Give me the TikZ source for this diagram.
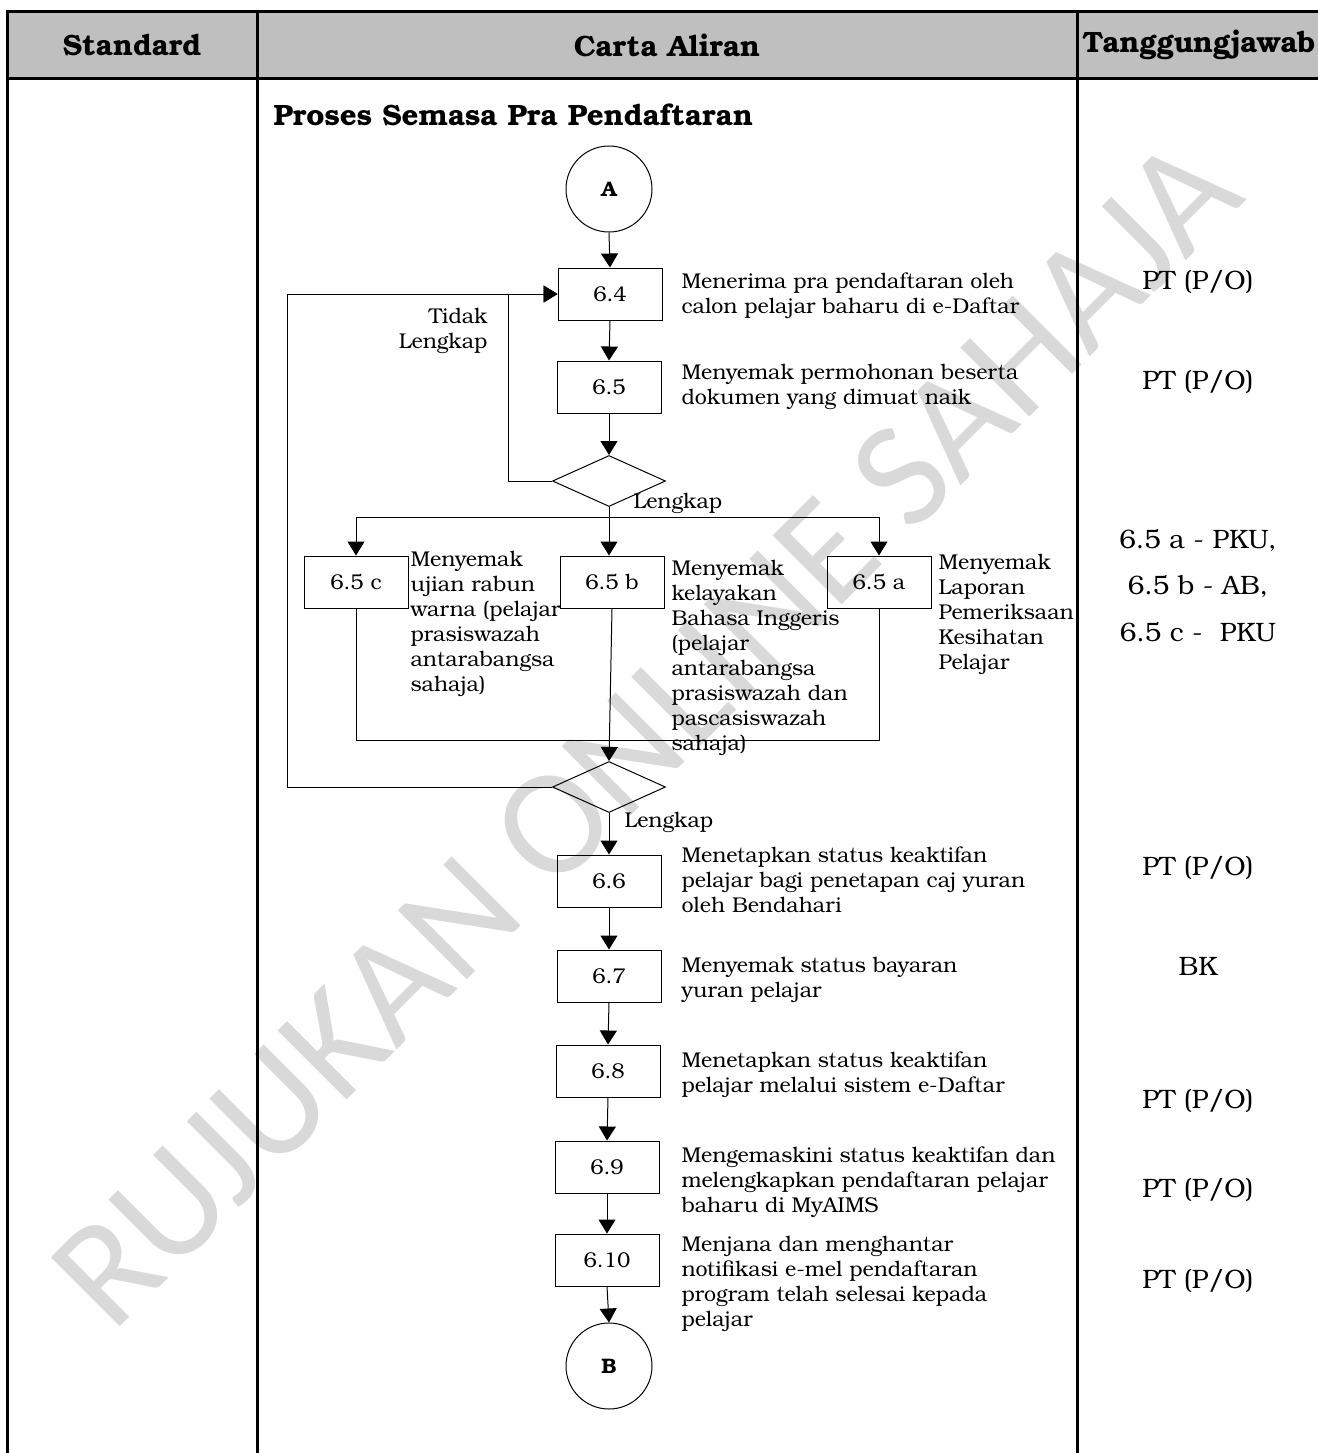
\documentclass[tikz,border=0pt]{standalone}
\usepackage{fontspec}
\setmainfont{TeX Gyre Bonum}
\newfontfamily\wmfont{Carlito}
\usetikzlibrary{arrows.meta,shapes.geometric}
\newcommand\bodyf{\fontsize{10.7}{12.5}\selectfont}
\newcommand\respf{\fontsize{13.3}{15}\selectfont}
\newcommand\hdrf{\bfseries\fontsize{14.7}{17}\selectfont}
\begin{document}
\begin{tikzpicture}[x=0.5pt,y=-0.5pt,
  arr/.style={-{Triangle[width=8.5pt,length=7pt]}},
  box/.style={draw, line width=0.5pt, minimum width=52pt, minimum height=26pt, inner sep=0pt, font=\bodyf},
  circ/.style={draw, line width=0.5pt, circle, minimum size=43pt, inner sep=0pt, font=\bfseries\fontsize{10.5}{12}\selectfont},
  dia/.style={draw, line width=0.5pt, diamond, minimum width=56.5pt, minimum height=25.5pt, inner sep=0pt},
  desc/.style={anchor=north west, inner sep=0pt, align=left, font=\bodyf},
  lbl/.style={inner sep=0pt, font=\bodyf},
  resp/.style={inner sep=0pt, font=\respf},
  hdr/.style={inner sep=0pt, font=\hdrf},
  grid/.style={line width=1.5pt},
  every path/.style={line width=0.5pt}
]
\useasboundingbox (0,0) rectangle (1318,1453);
% watermark
\node[rotate=45, anchor=base west, text=black!15, inner sep=0pt, font=\wmfont\fontsize{76}{76}\selectfont] (wm) at (112,1335) {RUJUKAN ONLINE SAHAJA};
% table
\fill[black!25] (7,11) rectangle (1318,78);
\draw[grid] (1318,11) -- (7,11) -- (7,1453);
\draw[grid] (7,78) -- (1318,78);
\draw[grid] (257,11) -- (257,1453);
\draw[grid] (1077,11) -- (1077,1453);
\node[hdr] (h1) at (132,45) {Standard};
\node[hdr] (h2) at (667,45) {Carta Aliran};
\node[hdr, anchor=west] (h3) at (1082,45) {Tanggungjawab};
\node[hdr, anchor=west] (title) at (273,115) {Proses Semasa Pra Pendaftaran};
% flow nodes
\node[circ] (A) at (609,189) {A};
\node[box] (b64) at (610,294) {6.4};
\node[box] (b65) at (609,387) {6.5};
\node[dia] (d1) at (609,481) {};
\node[box] (b65c) at (356,582) {6.5 c};
\node[box] (b65b) at (612,582) {6.5 b};
\node[box] (b65a) at (879,582) {6.5 a};
\node[dia] (d2) at (609,787) {};
\node[box] (b66) at (609,881) {6.6};
\node[box] (b67) at (609,976) {6.7};
\node[box] (b68) at (608,1071) {6.8};
\node[box] (b69) at (607,1167) {6.9};
\node[box] (b610) at (607,1260) {6.10};
\node[circ] (B) at (609,1366) {B};
\coordinate (loopR) at (508,294);
\coordinate (loopL) at (287,294);
\coordinate (split) at (609,517);
\coordinate (merge) at (609,740);
% connectors
\draw[arr] (A.south) -- (b64.north);
\draw[arr] (b64.south) -- (b65.north);
\draw[arr] (b65.south) -- (d1.north);
\draw[arr] (d1.west) -| (loopR) -- (b64.west);
\draw[arr] (d2.west) -| (loopL) -- (b64.west);
\draw (d1.south) -- (split);
\draw[arr] (split) -| (b65c.north);
\draw[arr] (split) -| (b65a.north);
\draw[arr] (split) -- (split |- b65b.north);
\draw (b65c.south) |- (merge);
\draw (b65a.south) |- (merge);
\draw[arr] (b65b.south) -- (d2.north);
\draw[arr] (d2.south) -- (b66.north);
\draw[arr] (b66.south) -- (b67.north);
\draw[arr] (b67.south) -- (b68.north);
\draw[arr] (b68.south) -- (b69.north);
\draw[arr] (b69.south) -- (b610.north);
\draw[arr] (b610.south) -- (B.north);
% labels
\node[lbl, anchor=north east, align=right] (tl) at (488,308) {Tidak\\Lengkap};
\node[lbl, anchor=west] (l1) at (633,503) {Lengkap};
\node[lbl, anchor=west] (l2) at (624,822) {Lengkap};
% descriptions
\node[desc] (t64) at (681,272) {Menerima pra pendaftaran oleh\\calon pelajar baharu di e-Daftar};
\node[desc] (t65) at (681,364) {Menyemak permohonan beserta\\dokumen yang dimuat naik};
\node[desc] (t65c) at (410,551) {Menyemak\\ujian rabun\\warna (pelajar\\prasiswazah\\antarabangsa\\sahaja)};
\node[desc] (t65b) at (671,560) {Menyemak\\kelayakan\\Bahasa Inggeris\\(pelajar\\antarabangsa\\prasiswazah dan\\pascasiswazah\\sahaja)};
\node[desc] (t65a) at (938,554) {Menyemak\\Laporan\\Pemeriksaan\\Kesihatan\\Pelajar};
\node[desc] (t66) at (681,846) {Menetapkan status keaktifan\\pelajar bagi penetapan caj yuran\\oleh Bendahari};
\node[desc] (t67) at (681,957) {Menyemak status bayaran\\yuran pelajar};
\node[desc] (t68) at (681,1051) {Menetapkan status keaktifan\\pelajar melalui sistem e-Daftar};
\node[desc] (t69) at (681,1146) {Mengemaskini status keaktifan dan\\melengkapkan pendaftaran pelajar\\baharu di MyAIMS};
\node[desc] (t610) at (681,1236) {Menjana dan menghantar\\notifikasi e-mel pendaftaran\\program telah selesai kepada\\pelajar};
% responsibilities
\node[resp] (r64) at (1198,282) {PT (P/O)};
\node[resp] (r65) at (1198,382) {PT (P/O)};
\node[resp] (r65a) at (1198,540) {6.5 a - PKU,};
\node[resp] (r65b) at (1198,586) {6.5 b - AB,};
\node[resp] (r65c) at (1198,632) {6.5 c -\ \ PKU};
\node[resp] (r66) at (1198,868) {PT (P/O)};
\node[resp] (r67) at (1198,966) {BK};
\node[resp] (r68) at (1198,1101) {PT (P/O)};
\node[resp] (r69) at (1198,1190) {PT (P/O)};
\node[resp] (r610) at (1198,1281) {PT (P/O)};
\end{tikzpicture}
\end{document}
